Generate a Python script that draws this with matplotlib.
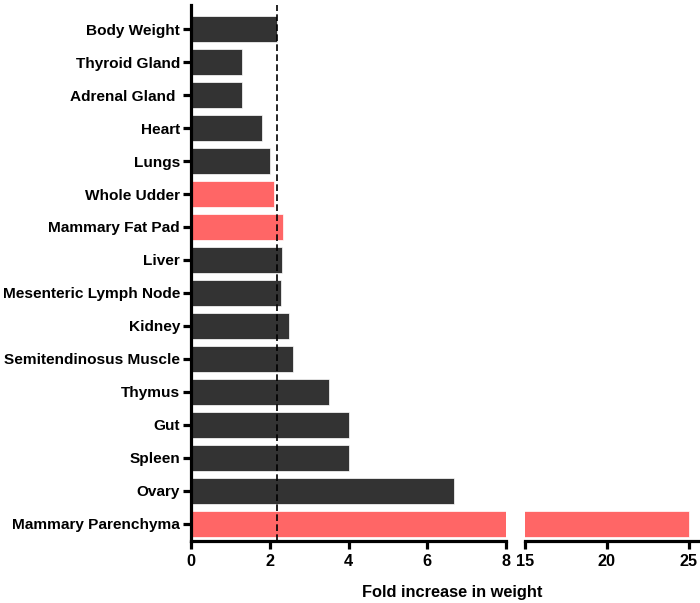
import matplotlib
matplotlib.use("Agg")
import matplotlib.pyplot as plt
import numpy as np

plt.rcParams['font.family'] = ['Liberation Sans', 'DejaVu Sans']
plt.rcParams['font.weight'] = 'bold'

# data, top to bottom
tissues = ["Body Weight", "Thyroid Gland", "Adrenal Gland ", "Heart", "Lungs",
           "Whole Udder", "Mammary Fat Pad", "Liver", "Mesenteric Lymph Node",
           "Kidney", "Semitendinosus Muscle", "Thymus", "Gut", "Spleen",
           "Ovary", "Mammary Parenchyma"]
fold = [2.18, 1.29, 1.29, 1.80, 2.00, 2.10, 2.33, 2.32, 2.29, 2.50, 2.60,
        3.50, 4.00, 4.00, 6.67, 25.0]
mammary = [False, False, False, False, False, True, True, False, False,
           False, False, False, False, False, False, True]
body_weight_line = 2.18
left_ticks = [0, 2, 4, 6, 8]
right_ticks = [15, 20, 25]

dark = '#333333'
red = '#FF6666'
colors = [red if m else dark for m in mammary]
ypos = np.arange(len(tissues))[::-1]

fig = plt.figure(figsize=(7, 6.03), dpi=100)
ax1 = fig.add_axes([0.2729, 0.1028, 0.7229 - 0.2729, 0.8889])
ax2 = fig.add_axes([0.75, 0.1028, 0.25, 0.8889])

for ax in (ax1, ax2):
    ax.barh(ypos, fold, height=0.78, color=colors, edgecolor='white', linewidth=0.5)
    ax.set_ylim(-0.52, 15.73)
    ax.spines['top'].set_visible(False)
    ax.spines['right'].set_visible(False)
    ax.spines['bottom'].set_linewidth(2.3)
    ax.tick_params(axis='x', length=6, width=2.3, labelsize=11.7, pad=3)

ax1.set_xlim(0, 8)
ax1.set_xticks(left_ticks)
ax1.spines['left'].set_linewidth(2.3)
ax1.set_yticks(ypos)
ax1.set_yticklabels(tissues, fontsize=11.1, fontweight='bold')
ax1.tick_params(axis='y', length=6, width=2.3, pad=2)
ax1.axvline(body_weight_line, color='black', linestyle=(0, (4, 2)), linewidth=1.2)
for lab in ax1.get_xticklabels():
    lab.set_fontweight('bold')

ax2.set_xlim(15, 25.7)
ax2.set_xticks(right_ticks)
ax2.spines['left'].set_visible(False)
ax2.set_yticks([])
for lab in ax2.get_xticklabels():
    lab.set_fontweight('bold')

fig.text(0.646, 0.017, "Fold increase in weight", ha='center', va='center',
         fontsize=11.8, fontweight='bold')

fig.savefig('out.png', dpi=100)
